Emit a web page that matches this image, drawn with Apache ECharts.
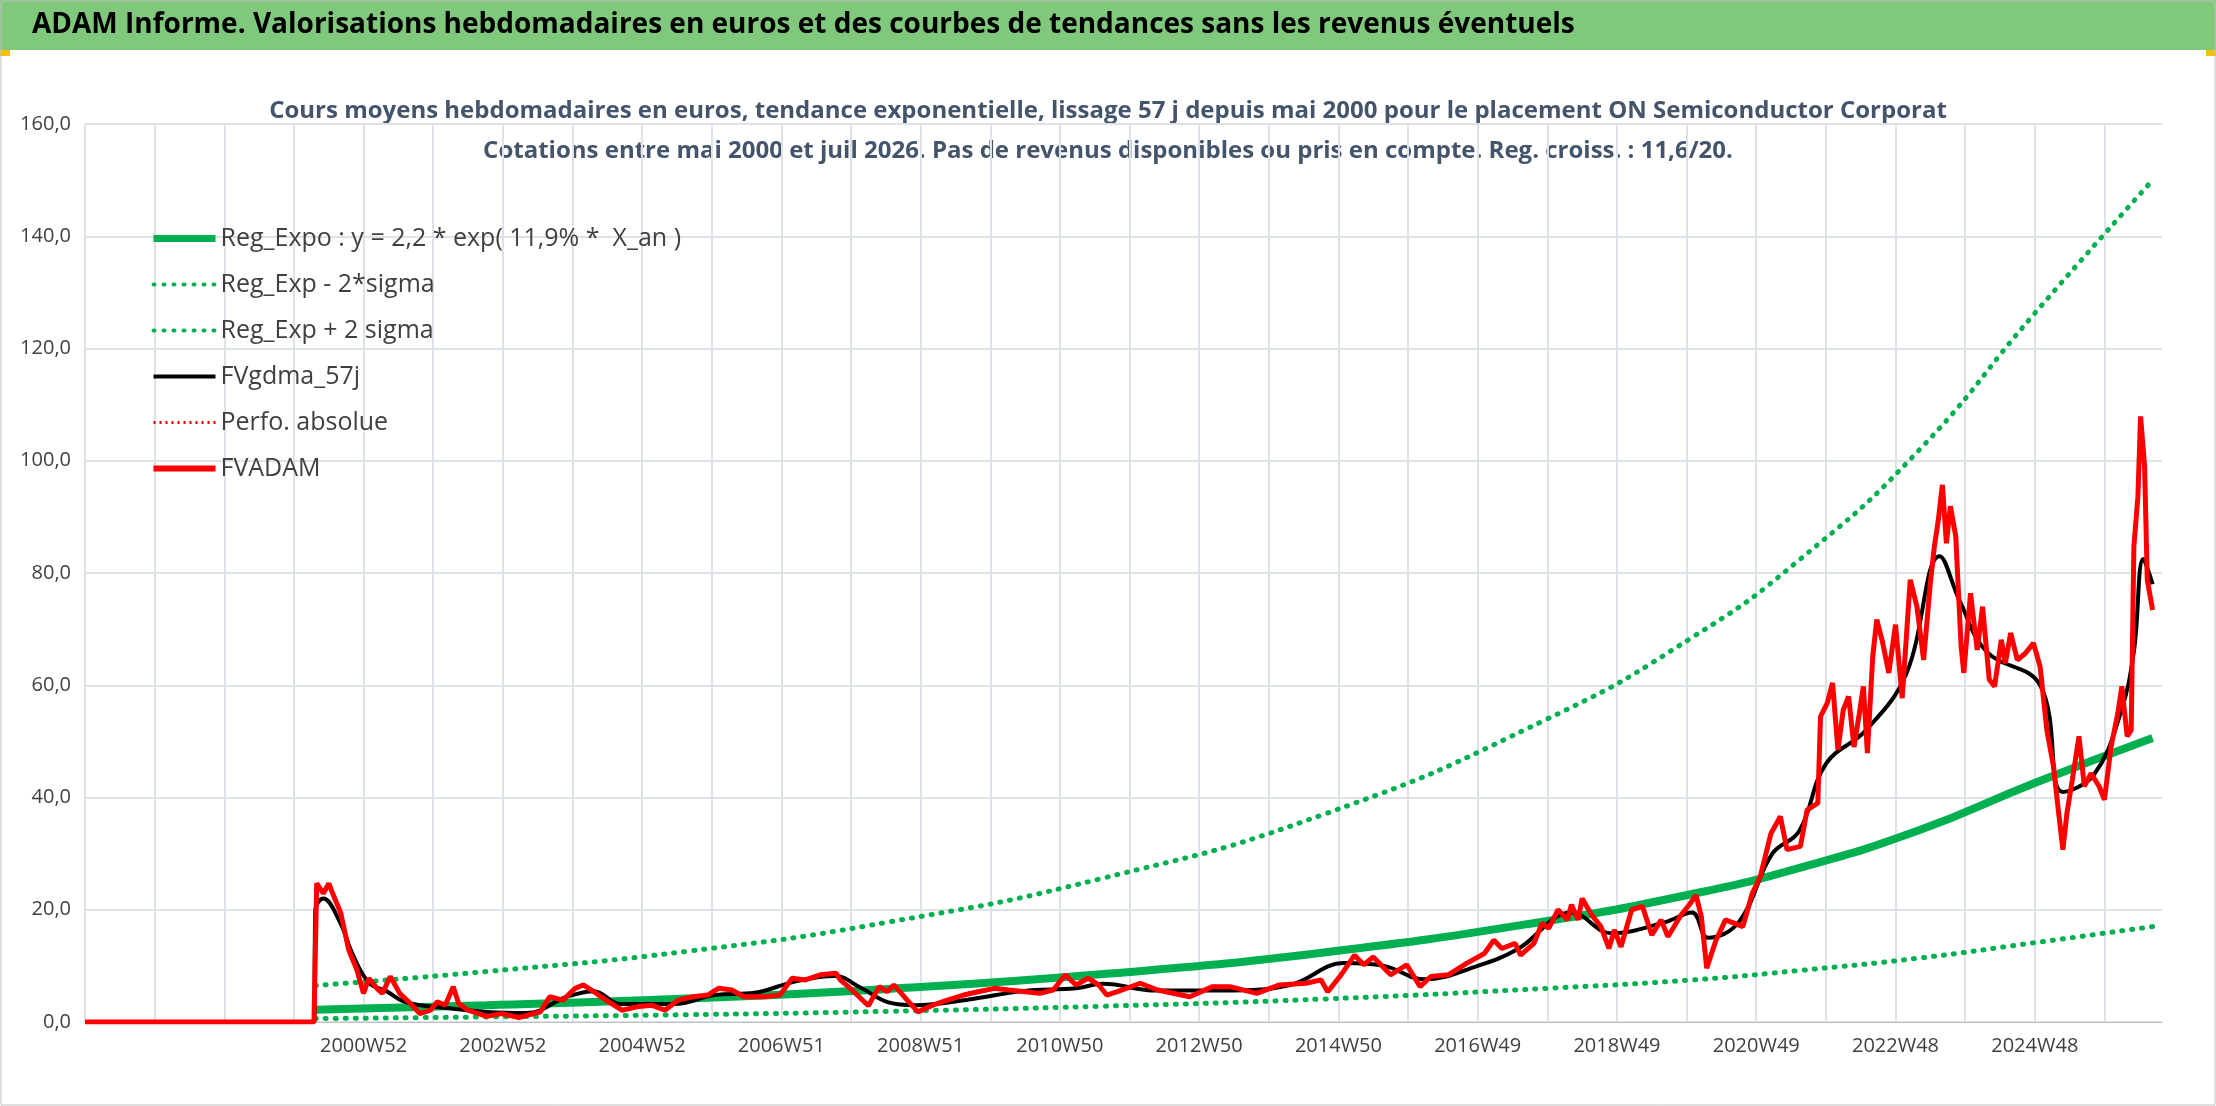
<!DOCTYPE html>
<html><head><meta charset="utf-8">
<script src="https://cdn.jsdelivr.net/npm/echarts@6/dist/echarts.min.js"></script>
<style>html,body{margin:0;padding:0;background:#fff}#c{width:2216px;height:1106px}</style>
</head><body><div id="c"></div>
<script>
const titleText = "ADAM Informe. Valorisations hebdomadaires en euros et des courbes de tendances sans les revenus éventuels";
const subtitle1 = "Cours moyens hebdomadaires en euros, tendance exponentielle, lissage 57 j depuis mai 2000 pour le placement ON Semiconductor Corporat";
const subtitle2 = "Cotations entre mai 2000 et juil 2026. Pas de revenus disponibles ou pris en compte. Reg. croiss. : 11,6/20.";
const weekCount = 1552;
const tickLabels = ["2000W52","2002W52","2004W52","2006W51","2008W51","2010W50","2012W50","2014W50","2016W49","2018W49","2020W49","2022W48","2024W48"];
const seriesNames = ["Reg_Expo : y = 2,2 * exp( 11,9% *  X_an )","Reg_Exp - 2*sigma","Reg_Exp + 2 sigma","FVgdma_57j","Perfo. absolue","FVADAM"];

const regExpo = [[172,2.2],[300,3.0],[450,4.2],[600,5.9],[758,8.5],[925,12.4],[1092,18.0],[1200,22.8],[1281,27.5],[1370,34.2],[1455,42.5],[1544,50.6]];
const regLow = [[172,0.6],[300,0.9],[450,1.3],[600,1.9],[758,2.8],[925,4.1],[1092,6.0],[1200,7.5],[1281,9.2],[1370,11.4],[1455,14.1],[1544,17.0]];
const regHigh = [[172,6.5],[300,9.0],[450,12.6],[600,17.8],[758,25.5],[925,37.0],[1092,54.0],[1200,68.5],[1281,82.5],[1370,102],[1455,126],[1544,150]];
const fvgdma = [[0,0],[171,0],[172,20],[178,22],[190,18],[200,12],[212,7],[225,5.5],[240,3.5],[270,2.5],[300,1.8],[330,1.6],[360,4.5],[380,5.5],[400,3.2],[440,3.2],[470,4.8],[500,5.2],[530,7.2],[560,8.2],[580,6],[600,3.5],[620,3],[660,4],[700,5.5],[740,6],[760,6.8],[800,5.6],[850,5.6],[900,6.6],[940,10.5],[970,10],[1000,7.6],[1040,10],[1070,13],[1110,19.5],[1140,15.8],[1180,17.8],[1200,19.5],[1212,15],[1235,17.8],[1260,30],[1280,34],[1300,46],[1330,52],[1360,62],[1385,83],[1400,75],[1420,66],[1460,60],[1477,41],[1500,44],[1520,55],[1530,66],[1537,82.5],[1544,78]];
const fvadam = [[0,0],[171,0],[172,0],[173,24.7],[178,22.9],[182,24.7],[185,22.9],[191,19.4],[197,12.8],[203,9.3],[208,5.1],[212,7.8],[218,6],[222,5.1],[228,8.1],[235,5.1],[243,3.3],[250,1.5],[258,2.1],[263,3.6],[269,3.0],[275,6.3],[279,3.3],[286,2.1],[300,1.0],[311,1.5],[324,0.8],[340,1.8],[347,4.5],[357,3.9],[366,6],[372,6.6],[380,5.4],[389,3.9],[401,2.1],[412,2.7],[423,3.0],[433,2.1],[443,3.9],[454,4.5],[465,4.8],[473,6],[483,5.7],[492,4.5],[507,4.5],[519,4.8],[528,7.8],[538,7.5],[549,8.4],[561,8.7],[564,7.5],[570,6.3],[578,4.5],[585,2.9],[593,6.3],[599,5.4],[604,6.6],[614,3.9],[622,1.8],[633,3.0],[644,3.9],[656,4.8],[667,5.4],[679,6],[690,5.7],[702,5.4],[713,5.1],[723,5.7],[732,8.4],[740,6.6],[749,7.8],[757,6.6],[763,4.8],[771,5.4],[788,6.9],[801,5.7],[825,4.5],[842,6.3],[855,6.3],[875,5.1],[892,6.6],[912,6.9],[923,7.5],[928,5.4],[938,8.4],[948,11.9],[955,10.2],[962,11.6],[975,8.4],[987,10.2],[997,6.3],[1005,8.1],[1018,8.4],[1032,10.5],[1045,12.2],[1052,14.6],[1058,13.1],[1068,14.0],[1072,11.9],[1082,14],[1088,17.6],[1093,16.7],[1100,20],[1107,18.2],[1110,20.9],[1115,18.2],[1118,22],[1125,19.1],[1132,17],[1138,13.1],[1142,16.4],[1147,13.4],[1155,20],[1163,20.6],[1170,15.5],[1177,18.2],[1182,15.2],[1192,19.1],[1198,20.9],[1203,22.6],[1207,18.8],[1211,9.6],[1218,14.6],[1225,18.2],[1238,17],[1245,22.9],[1251,25.9],[1259,33.6],[1266,36.6],[1271,30.7],[1281,31.3],[1286,37.8],[1294,39],[1296,54.4],[1301,56.8],[1305,60.4],[1309,48.5],[1313,55.6],[1317,58],[1321,49],[1325,55],[1328,59.8],[1331,47.9],[1335,65.1],[1338,71.7],[1342,68],[1347,62.2],[1352,70.8],[1357,57.7],[1363,78.8],[1368,74],[1373,64.5],[1378,78.2],[1381,84.7],[1384,89.5],[1387,95.7],[1390,85.3],[1393,91.9],[1397,86.5],[1401,66.9],[1403,62.2],[1408,76.4],[1413,66.3],[1417,74],[1422,61],[1426,59.8],[1431,68.1],[1434,63.9],[1438,69.3],[1443,64.5],[1449,65.7],[1455,67.5],[1460,63.3],[1465,52],[1470,45.5],[1473,39],[1477,30.7],[1480,37.2],[1484,43.1],[1489,50.9],[1493,42],[1498,44.3],[1504,42],[1508,39.6],[1513,49.1],[1518,55],[1521,59.8],[1525,50.9],[1528,52],[1530,84.7],[1533,93.6],[1535,107.9],[1538,99],[1540,78.8],[1544,73.4]];

const cats = [];
for (let i = 0; i < weekCount; i++) cats.push(String(i));

const chart = echarts.init(document.getElementById('c'));
const font = "'Liberation Sans Narrow','Open Sans',sans-serif";
const legendWidths = [7, 4, 4, 4, 3, 6];
chart.setOption({
  animation: false,
  backgroundColor: '#fff',
  graphic: [
    {type:'rect', shape:{x:0,y:0,width:2216,height:50}, style:{fill:'#80c87c'}},
    {type:'rect', shape:{x:0,y:50,width:10,height:6}, style:{fill:'#f4c20d'}},
    {type:'rect', shape:{x:2206,y:50,width:10,height:6}, style:{fill:'#f4c20d'}},
    {type:'rect', shape:{x:1,y:1,width:2214,height:1104}, style:{fill:'none', stroke:'#bfbfbf', lineWidth:1}},
    {type:'text', left:32, top:11, style:{text:titleText, font:"bold 28px "+font, fill:'#000'}},
    {type:'text', left:'center', top:99, style:{text:subtitle1, font:"bold 24px "+font, fill:'#44546a'}},
    {type:'text', left:'center', top:139, style:{text:subtitle2, font:"bold 24px "+font, fill:'#44546a'}}
  ],
  grid: {left:85, right:54, top:124, bottom:84},
  legend: {
    orient:'vertical', left:145, top:221, itemGap:21, itemWidth:62, itemHeight:14,
    itemStyle:{opacity:0},
    textStyle:{fontSize:25, color:'#404040', fontFamily:"'Open Sans',sans-serif"},
    data: seriesNames.map((n, i) => ({name:n, lineStyle:{width:legendWidths[i]}}))
  },
  xAxis: {
    type:'category', data:cats, boundaryGap:false,
    axisLine:{lineStyle:{color:'#bfbfbf'}}, axisTick:{show:false},
    axisLabel:{interval:103, fontSize:20, color:'#404040', margin:14, fontFamily:"'Open Sans',sans-serif",
      formatter:(v)=>{ const k = Math.round(Number(v)/104) - 2; return (Number(v)%104===0 && k>=0 && k<tickLabels.length) ? tickLabels[k] : ''; }},
    splitLine:{show:true, interval:51, lineStyle:{color:'#dde1e8', width:2}}
  },
  yAxis: {
    type:'value', min:0, max:160, interval:20,
    axisLine:{show:false}, axisTick:{show:false},
    axisLabel:{fontSize:20, color:'#404040', margin:14, fontFamily:"'Open Sans',sans-serif", formatter:v=>v.toFixed(1).replace('.',',')},
    splitLine:{lineStyle:{color:'#dde1e8', width:2}}
  },
  series: [
    {name:seriesNames[0], type:'line', data:regExpo, smooth:true, symbol:'none', lineStyle:{color:'#00b050', width:8}, itemStyle:{color:'#00b050'}, z:2},
    {name:seriesNames[1], type:'line', data:regLow, smooth:true, symbol:'none', lineStyle:{color:'#00b050', width:5, type:[1,9], cap:'round'}, itemStyle:{color:'#00b050'}, z:2},
    {name:seriesNames[2], type:'line', data:regHigh, smooth:true, symbol:'none', lineStyle:{color:'#00b050', width:5, type:[1,9], cap:'round'}, itemStyle:{color:'#00b050'}, z:2},
    {name:seriesNames[3], type:'line', data:fvgdma, smooth:0.4, symbol:'none', lineStyle:{color:'#000', width:4}, itemStyle:{color:'#000'}, z:3},
    {name:seriesNames[4], type:'line', data:[], symbol:'none', lineStyle:{color:'#e00000', width:3, type:[2,4]}, itemStyle:{color:'#e00000'}, z:3},
    {name:seriesNames[5], type:'line', data:fvadam, symbol:'none', lineStyle:{color:'#ff0000', width:5}, itemStyle:{color:'#ff0000'}, z:4}
  ]
});
</script></body></html>
